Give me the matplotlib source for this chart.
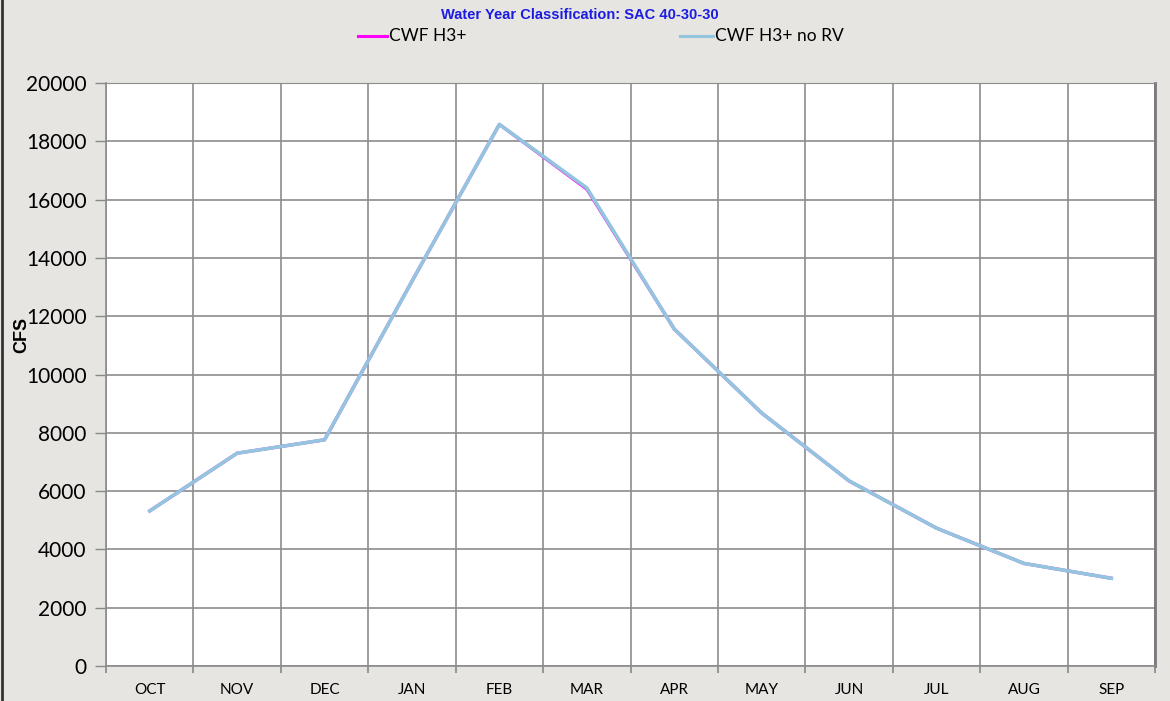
import numpy as np
import matplotlib.pyplot as plt
from matplotlib.lines import Line2D

# monthly flows (cfs), water year Oct-Sep
months = ['OCT', 'NOV', 'DEC', 'JAN', 'FEB', 'MAR', 'APR', 'MAY', 'JUN', 'JUL', 'AUG', 'SEP']
cwf_h3 = [5320, 7300, 7760, 13200, 18580, 16360, 11560, 8680, 6350, 4730, 3520, 3010]
cwf_h3_no_rv = [5320, 7300, 7760, 13200, 18580, 16400, 11560, 8680, 6350, 4730, 3520, 3010]

bg = '#e6e5e1'

fig = plt.figure(figsize=(11.7, 7.01), dpi=100, facecolor=bg)
ax = fig.add_axes([0.0906, 0.0499, 0.8966, 0.8317])
ax.set_facecolor('white')

x = np.arange(len(months))
ax.plot(x, cwf_h3, color='#ff00ff', lw=2.3, solid_joinstyle='round', zorder=3)
ax.plot(x, cwf_h3_no_rv, color='#93c5de', lw=2.6, solid_joinstyle='round', zorder=4)

ax.set_xlim(-0.5, len(months) - 0.5)
ax.set_ylim(0, 20000)
ax.set_yticks(np.arange(0, 20001, 2000))
ax.tick_params(axis='y', labelsize=15, length=8, width=1, color='#888888', pad=6)
for t in ax.get_yticklabels():
    t.set_fontfamily('Lato')

ax.set_xticks(x)
ax.set_xticklabels(months, fontsize=11, fontfamily='Lato')
ax.tick_params(axis='x', which='major', length=0, pad=12)
ax.set_xticks(np.arange(-0.5, len(months)), minor=True)
ax.tick_params(axis='x', which='minor', length=5, width=1.2, color='#888888')

ax.grid(True, axis='y', color='#8c8c8c', lw=1.2)
ax.grid(True, axis='x', which='minor', color='#8c8c8c', lw=1.2)
ax.set_axisbelow(True)
for s in ['left', 'bottom']:
    ax.spines[s].set_color('#8c8c8c')
    ax.spines[s].set_linewidth(1.2)
ax.spines['top'].set_color('#8c8c8c')
ax.spines['right'].set_color('#7a7a7a')
ax.spines['right'].set_linewidth(2)

fig.text(22 / 1170, 1 - 335 / 701, 'CFS', rotation=90, fontsize=13, fontweight='bold',
         ha='center', va='center', family='Liberation Sans')
fig.text(580 / 1170, 1 - 15 / 701, 'Water Year Classification: SAC 40-30-30', color='#1c1ce0',
         fontsize=10.5, fontweight='bold', ha='center', va='center', family='Liberation Sans')

# legend drawn by hand so it sits like the original
fig.add_artist(Line2D([358 / 1170, 387 / 1170], [1 - 36 / 701] * 2, color='#ff00ff', lw=2.2))
fig.text(389 / 1170, 1 - 36 / 701, 'CWF H3+', fontsize=12.5, va='center', family='Lato')
fig.add_artist(Line2D([680 / 1170, 713 / 1170], [1 - 36 / 701] * 2, color='#93c5de', lw=2.2))
fig.text(715 / 1170, 1 - 36 / 701, 'CWF H3+ no RV', fontsize=12.5, va='center', family='Lato')

# dark frame line on the left edge
fig.add_artist(Line2D([0.002, 0.002], [0, 1], color='#333333', lw=2))

fig.savefig('out.png', dpi=100, facecolor=bg)
